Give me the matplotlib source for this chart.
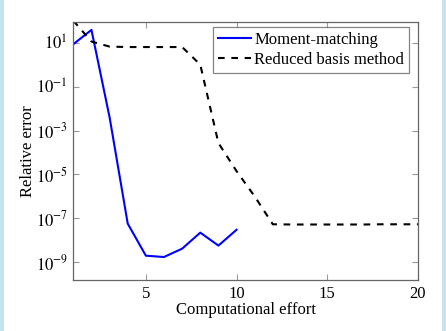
import matplotlib
matplotlib.use('Agg')
import matplotlib.pyplot as plt
from matplotlib.patches import Rectangle
import numpy as np

plt.rcParams['font.family'] = ['Liberation Serif', 'DejaVu Serif']
plt.rcParams['mathtext.fontset'] = 'stix'

# data (log10 of relative error)
mm_x = [1, 2, 3, 4, 5, 6, 7, 8, 9, 10]
mm_log = [0.93, 1.58, -2.4, -7.24, -8.7, -8.76, -8.38, -7.65, -8.24, -7.52]

rb_x = list(range(1, 21))
rb_log = [2.0, 1.05, 0.82, 0.8, 0.8, 0.8, 0.8, 0.0, -3.57, -4.85, -6.0,
          -7.27, -7.28, -7.28, -7.28, -7.28, -7.28, -7.27, -7.27, -7.27]

mm_y = 10.0 ** np.array(mm_log)
rb_y = 10.0 ** np.array(rb_log)

fig = plt.figure(figsize=(4.46, 3.31), dpi=100)
ax = fig.add_axes([0.1644, 0.1532, 0.937 - 0.1644, 0.9335 - 0.1532])

# light blue page edges
for x0 in (0, 442 / 446):
    fig.patches.append(Rectangle((x0, 0), 4 / 446, 1, transform=fig.transFigure,
                                 facecolor='#c4e3ee', edgecolor='none', zorder=-1))

ax.plot(mm_x, mm_y, color='#0000ff', lw=1.5, label='Moment-matching')
ax.plot(rb_x, rb_y, color='black', lw=1.5, ls=(0, (3.2, 3.2)), label='Reduced basis method')

ax.set_yscale('log')
ax.set_xlim(1, 20)
ax.set_ylim(10 ** -9.82, 10 ** 1.94)
ax.set_xticks([5, 10, 15, 20])
ax.set_yticks([10.0 ** e for e in (-9, -7, -5, -3, -1, 1)])
ax.yaxis.set_minor_locator(matplotlib.ticker.NullLocator())
ax.set_yticklabels([r'$10^{%d}$' % e for e in (-9, -7, -5, -3, -1, 1)])

ax.tick_params(direction='in', length=4, width=0.8, color='#999999',
               top=True, right=True, labelsize=12, pad=4)
for s in ax.spines.values():
    s.set_color('#666666')
    s.set_linewidth(0.9)

ax.set_xlabel('Computational effort', fontsize=12, labelpad=0)
ax.set_ylabel('Relative error', fontsize=12, labelpad=0)

leg = ax.legend(loc='upper right', fontsize=12, frameon=True, fancybox=False,
                handlelength=2.0, borderpad=0.3, labelspacing=0.2,
                handletextpad=0.2, borderaxespad=0, bbox_to_anchor=(0.975, 0.98))
leg.get_frame().set_edgecolor('#666666')
leg.get_frame().set_linewidth(0.9)

fig.savefig('out.png', dpi=100)
